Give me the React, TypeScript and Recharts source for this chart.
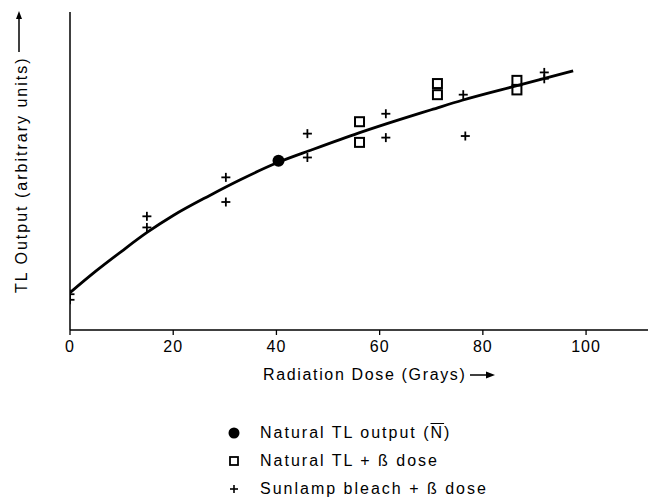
import React from "react"
import { ComposedChart, Line, Scatter, XAxis, YAxis, Legend } from "recharts"

// fitted TL growth curve
const CURVE_DOSE = [0, 5, 10, 15, 20, 27, 33, 40, 47, 56, 64, 70, 76, 87, 97.5]
const CURVE_TL = [0.47, 0.74, 0.99, 1.23, 1.44, 1.69, 1.89, 2.1, 2.27, 2.48, 2.65, 2.77, 2.89, 3.08, 3.26]

const NATURAL_DOSE = [40.4]
const NATURAL_TL = [2.13]

const BETA_DOSE = [56.1, 56.1, 71.2, 71.2, 86.6, 86.6]
const BETA_TL = [2.62, 2.36, 3.1, 2.96, 3.14, 3.02]

const BLEACH_DOSE = [0, 0, 14.9, 14.9, 30.2, 30.2, 46, 46, 61.2, 61.2, 76.2, 76.6, 91.9, 91.9]
const BLEACH_TL = [0.45, 0.38, 1.43, 1.29, 1.92, 1.61, 2.47, 2.17, 2.72, 2.42, 2.96, 2.44, 3.24, 3.16]

const X_TICKS = [0, 20, 40, 60, 80, 100]
const Y_TICKS = [0, 1, 2, 3, 4]

const NATURAL_NAME = "Natural TL output (N̄)"
const BETA_NAME = "Natural TL + ß dose"
const BLEACH_NAME = "Sunlamp bleach + ß dose"
const LEGEND_ORDER = [NATURAL_NAME, BETA_NAME, BLEACH_NAME]

const FONT = '"Liberation Sans", Arial, Helvetica, sans-serif'

const toPoints = (xs: number[], ys: number[]) => xs.map((x, i) => ({ x, y: ys[i] }))

const curve = toPoints(CURVE_DOSE, CURVE_TL)
const natural = toPoints(NATURAL_DOSE, NATURAL_TL)
const beta = toPoints(BETA_DOSE, BETA_TL)
const bleach = toPoints(BLEACH_DOSE, BLEACH_TL)

const Dot = ({ cx, cy }: any) => <circle cx={cx} cy={cy} r={6} fill="#000" />

const Square = ({ cx, cy }: any) => (
    <rect x={cx - 4.5} y={cy - 4.5} width={9} height={9} fill="none" stroke="#000" strokeWidth={2} />
)

const Plus = ({ cx, cy }: any) => (
    <g stroke="#000" strokeWidth={1.8}>
        <line x1={cx - 4.5} y1={cy} x2={cx + 4.5} y2={cy} />
        <line x1={cx} y1={cy - 4.5} x2={cx} y2={cy + 4.5} />
    </g>
)

const YLabel = ({ viewBox }: any) => {
    const x = viewBox.x + 27
    const bottom = viewBox.y + viewBox.height - 37
    const ax = viewBox.x + 19
    return (
        <g>
            <text
                transform={`translate(${x},${bottom}) rotate(-90)`}
                textAnchor="start"
                fontFamily={FONT}
                fontSize={16}
                fill="#000"
                style={{ letterSpacing: "2px" }}
            >
                TL Output (arbitrary units)
            </text>
            <line x1={ax} y1={52} x2={ax} y2={17} stroke="#000" strokeWidth={1.5} />
            <polygon points={`${ax - 3},${19} ${ax + 3},${19} ${ax},${11}`} fill="#000" />
        </g>
    )
}

const XLabel = ({ viewBox }: any) => {
    const x = viewBox.x + 193
    const y = viewBox.y + 50
    return (
        <g>
            <text x={x} y={y} fontFamily={FONT} fontSize={16} fill="#000" style={{ letterSpacing: "1.65px" }}>
                Radiation Dose (Grays)
            </text>
            <line x1={x + 207} y1={y - 5} x2={x + 226} y2={y - 5} stroke="#000" strokeWidth={1.5} />
            <polygon points={`${x + 223},${y - 8.5} ${x + 223},${y - 1.5} ${x + 232},${y - 5}`} fill="#000" />
        </g>
    )
}

const legendIcon = (name: string) => {
    if (name === NATURAL_NAME) return <circle cx={10} cy={10} r={5.5} fill="#000" />
    if (name === BETA_NAME) return <rect x={6} y={6} width={8} height={8} fill="none" stroke="#000" strokeWidth={1.8} />
    return (
        <g stroke="#000" strokeWidth={1.6}>
            <line x1={6} y1={10} x2={14} y2={10} />
            <line x1={10} y1={6} x2={10} y2={14} />
        </g>
    )
}

const legendText = (name: string) => {
    if (name === NATURAL_NAME) {
        return (
            <span>
                Natural TL output (<span style={{ textDecoration: "overline" }}>N</span>)
            </span>
        )
    }
    return <span>{name}</span>
}

const LegendBox = ({ payload }: any) => {
    const items = (payload || [])
        .filter((p: any) => LEGEND_ORDER.includes(p.value))
        .sort((a: any, b: any) => LEGEND_ORDER.indexOf(a.value) - LEGEND_ORDER.indexOf(b.value))
    return (
        <div style={{ fontFamily: FONT, fontSize: 16, lineHeight: "20px", letterSpacing: "2px", color: "#000" }}>
            {items.map((entry: any, i: number) => (
                <div
                    key={entry.value}
                    style={{ display: "flex", alignItems: "center", height: 20, marginTop: i === 0 ? 0 : 8 }}
                >
                    <svg width={20} height={20}>{legendIcon(entry.value)}</svg>
                    <div style={{ marginLeft: 16, whiteSpace: "nowrap" }}>{legendText(entry.value)}</div>
                </div>
            ))}
        </div>
    )
}

export default function App() {
    return (
        <div style={{ position: "absolute", left: 0, top: 0, width: 649, height: 500, background: "#fff" }}>
            <ComposedChart width={649} height={500} margin={{ top: 12, right: 1, left: 0, bottom: 120 }}>
                <XAxis
                    type="number"
                    dataKey="x"
                    domain={[0, 112]}
                    ticks={X_TICKS}
                    allowDataOverflow
                    height={50}
                    axisLine={{ stroke: "#000", strokeWidth: 1.5 }}
                    tickLine={{ stroke: "#000", strokeWidth: 1.3 }}
                    tickSize={5}
                    tickMargin={6}
                    tick={{ fill: "#000", fontSize: 16, fontFamily: FONT, letterSpacing: 1 }}
                    label={{ content: XLabel }}
                />
                <YAxis
                    type="number"
                    dataKey="y"
                    domain={[0, 4]}
                    ticks={Y_TICKS}
                    allowDataOverflow
                    width={70}
                    tick={false}
                    axisLine={{ stroke: "#000", strokeWidth: 1.5 }}
                    tickLine={{ stroke: "#000", strokeWidth: 1.3 }}
                    tickSize={6}
                    label={{ content: YLabel }}
                />
                <Line
                    data={curve}
                    dataKey="y"
                    type="monotone"
                    dot={false}
                    activeDot={false}
                    stroke="#000"
                    strokeWidth={2.8}
                    legendType="none"
                    isAnimationActive={false}
                />
                <Scatter name={NATURAL_NAME} data={natural} shape={Dot} isAnimationActive={false} />
                <Scatter name={BETA_NAME} data={beta} shape={Square} isAnimationActive={false} />
                <Scatter name={BLEACH_NAME} data={bleach} shape={Plus} isAnimationActive={false} />
                <Legend
                    layout="vertical"
                    align="center"
                    verticalAlign="middle"
                    content={LegendBox}
                    wrapperStyle={{ top: 423, left: 224 }}
                />
            </ComposedChart>
        </div>
    )
}
